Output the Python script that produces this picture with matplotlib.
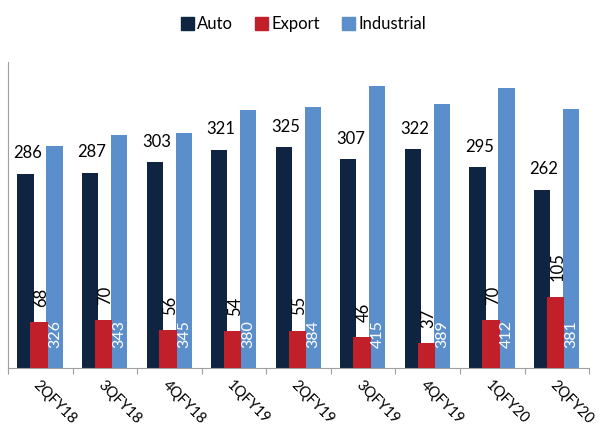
import numpy as np
import matplotlib.pyplot as plt
from matplotlib.patches import Patch

plt.rcParams['font.family'] = ['Lato', 'DejaVu Sans']

# Quarterly volumes
quarters = ['2QFY18', '3QFY18', '4QFY18', '1QFY19', '2QFY19',
            '3QFY19', '4QFY19', '1QFY20', '2QFY20']
auto = [286, 287, 303, 321, 325, 307, 322, 295, 262]
export = [68, 70, 56, 54, 55, 46, 37, 70, 105]
industrial = [326, 343, 345, 380, 384, 415, 389, 412, 381]

c_auto = '#0F2440'
c_exp = '#C1202A'
c_ind = '#5B8FCC'

fig = plt.figure(figsize=(6.01, 4.28), dpi=100)
ax = fig.add_axes([0.0133, 0.14, 0.967, 0.715])

x = np.arange(len(quarters))
w = 0.25
ax.bar(x - 0.23, auto, w, color=c_auto, zorder=2)
ax.bar(x + 0.22, industrial, w, color=c_ind, zorder=2)
ax.bar(x - 0.02, export, 0.27, color=c_exp, zorder=3)

for i in range(len(quarters)):
    ax.annotate(str(auto[i]), (x[i] - 0.2, auto[i]), xytext=(0, 9),
                textcoords='offset points', ha='center', va='bottom', fontsize=12)
    ax.annotate(str(export[i]), (x[i] + 0.01, export[i]), xytext=(0, 11),
                textcoords='offset points', ha='center', va='bottom',
                rotation=90, fontsize=12)
    ax.text(x[i] + 0.225, 30, str(industrial[i]), ha='center', va='bottom',
            rotation=90, fontsize=11.5, color='white', zorder=4)

ax.set_xlim(-0.5, len(quarters) - 0.5)
ax.set_ylim(0, 450)

# tick marks on category boundaries, labels at centres
ax.set_xticks(np.arange(-0.5, len(quarters), 1.0))
ax.set_xticklabels([])
ax.set_xticks(x, minor=True)
ax.set_xticklabels(quarters, minor=True, rotation=-45, ha='left',
                   rotation_mode='anchor', fontsize=10.5)
ax.tick_params(axis='x', which='major', length=4, color='#A0A0A0')
ax.tick_params(axis='x', which='minor', length=0, pad=7)
ax.set_yticks([])

for s in ['top', 'right']:
    ax.spines[s].set_visible(False)
for s in ['left', 'bottom']:
    ax.spines[s].set_color('#A0A0A0')

handles = [Patch(color=c_auto), Patch(color=c_exp), Patch(color=c_ind)]
fig.legend(handles, ['Auto', 'Export', 'Industrial'], loc='center',
           bbox_to_anchor=(0.505, 0.944), ncol=3, frameon=False, fontsize=12,
           handlelength=0.8, handleheight=0.8, handletextpad=0.2,
           columnspacing=1.3)

fig.savefig('out.png', dpi=100)
